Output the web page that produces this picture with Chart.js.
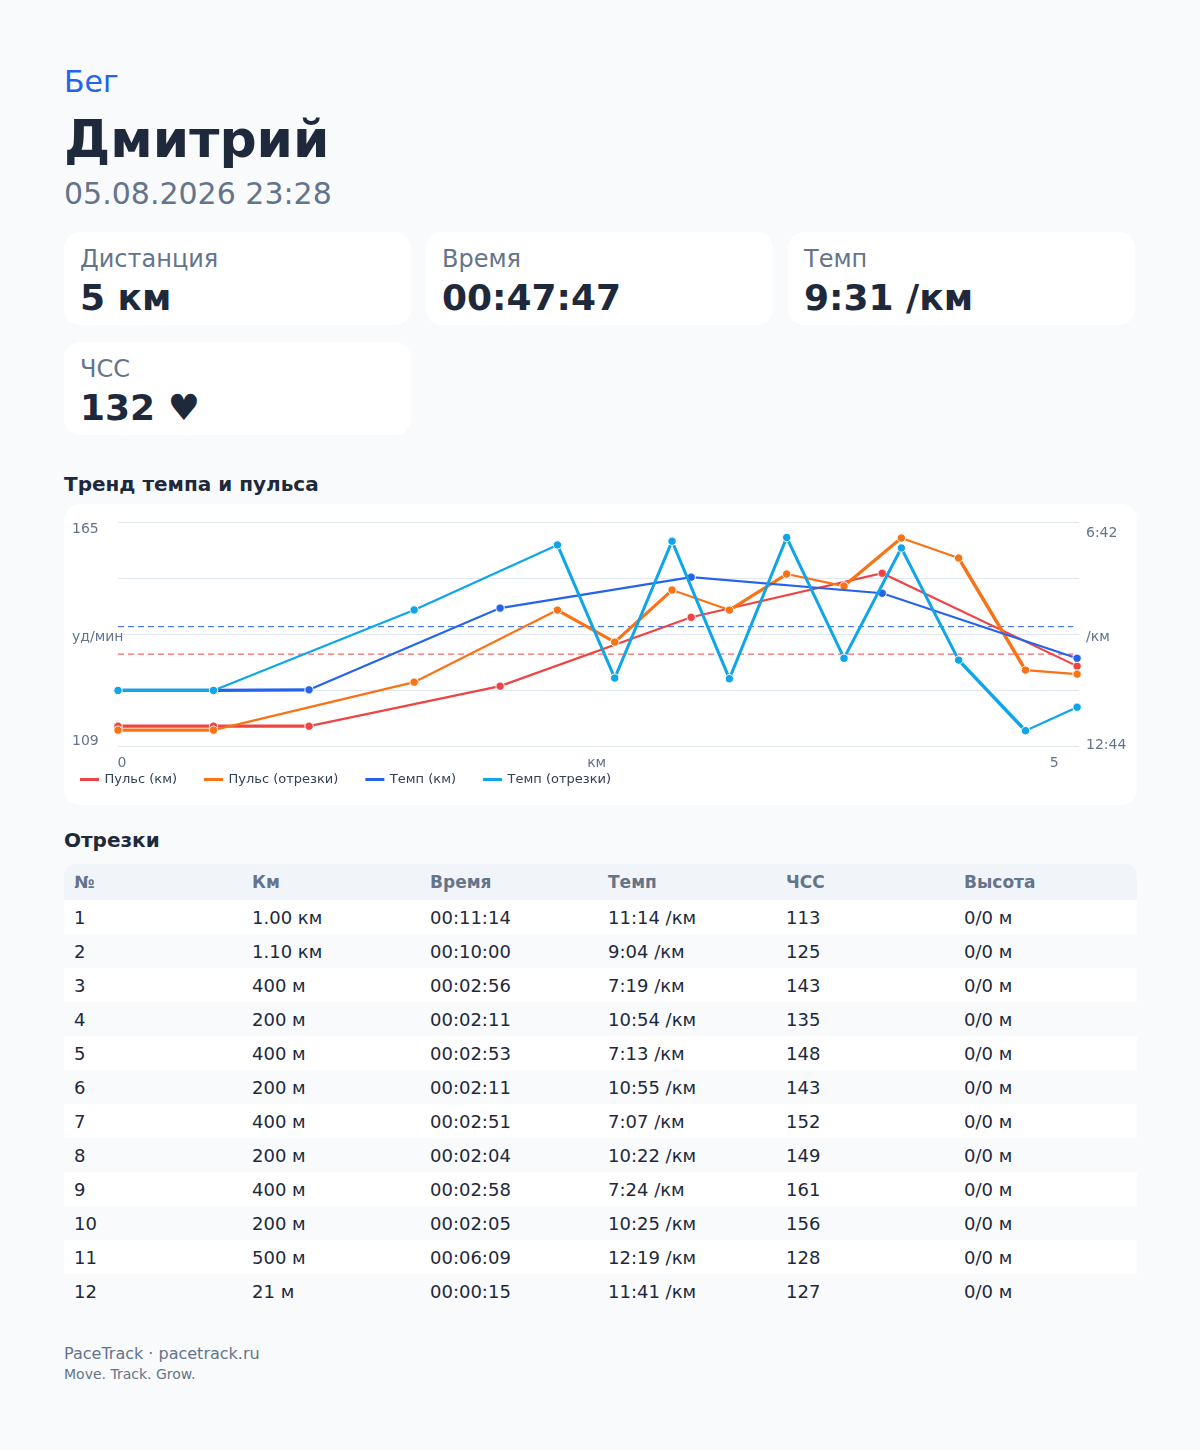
<!DOCTYPE html>
<html lang="ru"><head><meta charset="utf-8">
<script src="https://cdn.jsdelivr.net/npm/chart.js@4/dist/chart.umd.min.js"></script>
<style>
*{box-sizing:border-box}
html,body{margin:0;padding:0;background:#f8fafc;width:1200px;height:1450px;overflow:hidden;font-family:"DejaVu Sans",sans-serif;color:#1e293b}
.abs{position:absolute;white-space:nowrap}
.card{position:absolute;width:347px;height:93px;background:#fff;border-radius:16px}
.card .l{position:absolute;left:16px;top:12px;font-size:24px;color:#64748b;line-height:30px}
.card .v{position:absolute;left:16px;top:43px;font-size:36px;font-weight:700;line-height:46px;color:#1e293b}
#chartCard{position:absolute;left:64px;top:504px;width:1073px;height:301px;background:#fff;border-radius:16px}
#chartCard canvas{position:absolute;left:0;top:0}
table{position:absolute;left:64px;top:864px;width:1073px;border-collapse:separate;border-spacing:0;table-layout:fixed;font-size:18px}
th{height:36px;background:#f1f5f9;color:#64748b;font-weight:700;text-align:left;padding:0 10px;font-size:17px;width:178px}
th:last-child{width:auto}
th:first-child{border-radius:12px 0 0 0}th:last-child{border-radius:0 12px 0 0}
td{height:34px;padding:0 10px;color:#1e293b}
tr:nth-child(odd) td{background:#fff}tr:nth-child(even) td{background:#f8fafc}
</style></head><body>
<div class="abs" style="left:64px;top:64px;font-size:30px;color:#2563eb;line-height:36px">Бег</div>
<div class="abs" style="left:64px;top:108px;font-size:52px;font-weight:700;line-height:62px">Дмитрий</div>
<div class="abs" style="left:64px;top:175px;font-size:30px;color:#64748b;line-height:38px">05.08.2026 23:28</div>
<div id="cards"></div>
<div class="abs" style="left:64px;top:471px;font-size:20px;font-weight:700;line-height:26px">Тренд темпа и пульса</div>
<div id="chartCard"><canvas id="c" width="1073" height="301"></canvas></div>
<div class="abs" style="left:64px;top:827px;font-size:20px;font-weight:700;line-height:26px">Отрезки</div>
<table id="t"><thead><tr id="h"></tr></thead><tbody id="b"></tbody></table>
<div class="abs" style="left:64px;top:1344px;font-size:16px;color:#64748b;line-height:20px">PaceTrack · pacetrack.ru</div>
<div class="abs" style="left:64px;top:1365px;font-size:14px;color:#64748b;line-height:18px">Move. Track. Grow.</div>
<script>
const cardLabels=["Дистанция","Время","Темп","ЧСС"];
const cardValues=["5 км","00:47:47","9:31 /км","132 ♥"];
const tableHead=["№","Км","Время","Темп","ЧСС","Высота"];
const lapDist=["1.00 км","1.10 км","400 м","200 м","400 м","200 м","400 м","200 м","400 м","200 м","500 м","21 м"];
const lapTime=["00:11:14","00:10:00","00:02:56","00:02:11","00:02:53","00:02:11","00:02:51","00:02:04","00:02:58","00:02:05","00:06:09","00:00:15"];
const lapPace=["11:14 /км","9:04 /км","7:19 /км","10:54 /км","7:13 /км","10:55 /км","7:07 /км","10:22 /км","7:24 /км","10:25 /км","12:19 /км","11:41 /км"];
const lapHr=[113,125,143,135,148,143,152,149,161,156,128,127];
const lapElev=["0/0 м","0/0 м","0/0 м","0/0 м","0/0 м","0/0 м","0/0 м","0/0 м","0/0 м","0/0 м","0/0 м","0/0 м"];

// chart data
const kmX=[0,0.5,1,2,3,4,5.02];
const kmHr=[114,114,114,124,141.2,152.2,129];
const kmPaceSec=[674,674,673,541,491,517,622];
const lapX=[0,0.5,1.55,2.3,2.6,2.9,3.2,3.5,3.8,4.1,4.4,4.75,5.02];
const lapHrPts=[113,113,125,143,135,148,143,152,149,161,156,128,127];
const lapPaceSec=[674,674,544,439,654,433,655,427,622,444,625,739,701];
const avgX=[0,5];
const avgHr=132, avgPaceSec=571;
const yTicks={165:"165",137:"уд/мин",109:"109"};
const paceTicks={402:"6:42",583:"/км",764:"12:44"};
const xLabels={0:"0",2.5:"км",5:"5"};
const names=["Пульс (км)","Пульс (отрезки)","Темп (км)","Темп (отрезки)"];
const colors=["#ef4444","#f97316","#2563eb","#0ea5e9"];

const hdr=document.getElementById('h');tableHead.forEach(x=>{const th=document.createElement('th');th.textContent=x;hdr.appendChild(th)});
const tb=document.getElementById('b');
lapHr.forEach((hr,i)=>{const tr=document.createElement('tr');[i+1,lapDist[i],lapTime[i],lapPace[i],hr,lapElev[i]].forEach(v=>{const td=document.createElement('td');td.textContent=v;tr.appendChild(td)});tb.appendChild(tr)});
const cardPos=[[64,232],[426,232],[788,232],[64,342]];
const cs=document.getElementById('cards');
cardLabels.forEach((l,i)=>{const d=document.createElement('div');d.className='card';d.style.left=cardPos[i][0]+'px';d.style.top=cardPos[i][1]+'px';d.innerHTML='<div class="l"></div><div class="v"></div>';d.children[0].textContent=l;d.children[1].textContent=cardValues[i];cs.appendChild(d)});

// styling of the chart
const kmWidths=[3.2,3.2,2.2,2.2,2.2,2.2];
const lapWidths=[3.2,2.2,2.2,3.2,3.2,2.2,3.2,2.2,3.2,2.2,3.5,2.2];
const lapPaceWidths=[3.2,2.2,2.2,3,3,3,3,3,3,3,3.5,2.2];
const yOffsets={165:[-49,7],137:[-49,3],109:[-49,-5]};
const paceOffsets={402:[-1,11],583:[-1,3],764:[-1,-1]};
const xOffsets={0:[4,0],2.5:[1,0],5:[-19,0]};

const pts=(xs,ys)=>xs.map((x,i)=>({x,y:ys[i]}));
const mk=(idx,label,xs,ys,axis,widths,order)=>({label,data:pts(xs,ys),yAxisID:axis,clip:false,showLine:true,borderColor:colors[idx],backgroundColor:colors[idx],borderWidth:2,pointRadius:4.2,pointBorderWidth:1,pointBackgroundColor:colors[idx],pointBorderColor:'#fff',tension:0,order,segment:{borderWidth:c=>widths[c.p0DataIndex]}});
const avg=(label,color,v,axis,order)=>({label,data:pts(avgX,[v,v]),yAxisID:axis,clip:false,showLine:true,borderColor:color,borderWidth:1,borderDash:[6,4],pointRadius:0,tension:0,order});

const nudge={id:'nudge',
 afterLayout(ch){ const lg=ch.legend; lg.left-=11; lg.top=241; },
 beforeDraw(ch){
 [['y',yOffsets],['y1',paceOffsets],['x',xOffsets]].forEach(([id,off])=>{
  const s=ch.scales[id];
  s.getLabelItems().forEach((it,i)=>{const o=off[s.ticks[i].value];if(o&&!it._n){it.options.translation[0]+=o[0];it.options.translation[1]+=o[1];it._n=1}});
 });
}};
const axisFont={family:'DejaVu Sans',size:14};
new Chart(document.getElementById('c'),{type:'scatter',plugins:[nudge],
 data:{datasets:[
  mk(0,names[0],kmX,kmHr,'y',kmWidths,4),
  mk(1,names[1],lapX,lapHrPts,'y',lapWidths,3),
  mk(2,names[2],kmX,kmPaceSec,'y1',kmWidths,2),
  mk(3,names[3],lapX,lapPaceSec,'y1',lapPaceWidths,1),
  avg('avgHr',colors[0],avgHr,'y',6),
  avg('avgPace',colors[2],avgPaceSec,'y1',5)
 ]},
 options:{responsive:false,animation:false,
  layout:{padding:{left:0,right:0,top:18,bottom:-19}},
  plugins:{tooltip:{enabled:false},
   legend:{position:'bottom',align:'start',
    labels:{boxWidth:17,boxHeight:1,padding:28,color:'#334155',font:{family:'DejaVu Sans',size:13},
     sort:(a,b)=>a.datasetIndex-b.datasetIndex,filter:i=>i.datasetIndex<4}}},
  scales:{
   x:{type:'linear',min:0,max:5.03,grid:{display:false},border:{display:false},
    afterBuildTicks:s=>{s.ticks=[{value:0},{value:2.5},{value:5}]},
    ticks:{autoSkip:false,maxRotation:0,color:'#64748b',font:axisFont,padding:1,callback:v=>xLabels[v]||''}},
   y:{type:'linear',position:'left',min:109,max:165,
    afterFit:s=>{s.width=54},
    grid:{color:'#e2e8f0',lineWidth:1,drawTicks:false},border:{display:false},
    ticks:{stepSize:14,autoSkip:false,color:'#64748b',font:axisFont,mirror:true,callback:v=>yTicks[v]||''}},
   y1:{type:'linear',position:'right',min:402,max:764,reverse:true,
    afterFit:s=>{s.width=58},
    afterBuildTicks:s=>{s.ticks=[{value:402},{value:583},{value:764}]},
    grid:{display:false},border:{display:false},
    ticks:{autoSkip:false,color:'#64748b',font:axisFont,padding:0,callback:v=>paceTicks[v]||''}}
  }}});
</script></body></html>
